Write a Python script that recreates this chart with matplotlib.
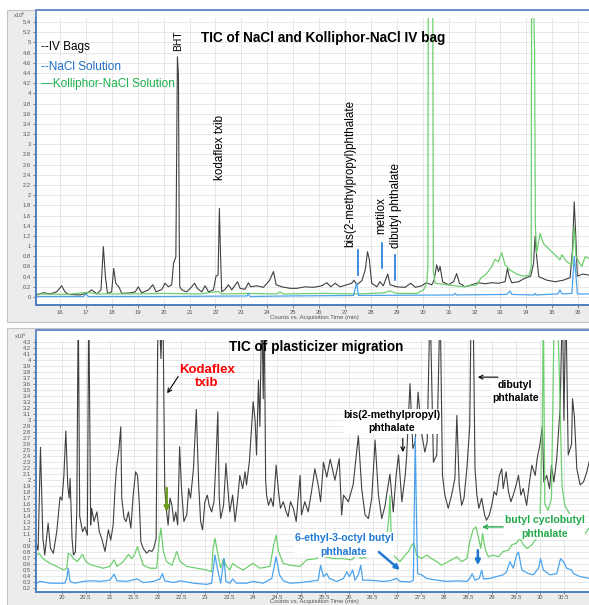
import matplotlib
matplotlib.use('Agg')
import matplotlib.pyplot as plt
from matplotlib.patches import Rectangle

plt.rcParams['font.family'] = ['Liberation Sans', 'DejaVu Sans']

# ---- top panel: TIC of NaCl and Kolliphor-NaCl IV bag (x: min, y: counts x1e6) ----
top_iv = [(15.10, 0.04), (15.36, 0.085), (15.61, 0.06), (15.87, 0.10), (16.06, 0.22), (16.19, 0.10),
          (16.32, 0.05), (16.77, 0.04), (17.06, 0.08), (17.22, 0.14), (17.42, 0.06), (17.58, 0.14),
          (17.67, 0.99), (17.75, 0.40), (17.83, 0.07), (17.99, 0.10), (18.07, 0.56), (18.15, 0.27),
          (18.28, 0.19), (18.38, 0.07), (18.70, 0.08), (18.90, 0.10), (19.02, 0.20), (19.15, 0.08),
          (19.41, 0.14), (19.58, 0.24), (19.71, 0.10), (19.93, 0.15), (20.05, 0.27), (20.18, 0.20),
          (20.31, 0.24), (20.38, 0.66), (20.47, 0.79), (20.53, 4.72), (20.57, 4.35), (20.60, 1.20),
          (20.62, 0.20), (20.70, 0.14), (20.89, 0.10), (21.08, 0.20), (21.19, 0.27), (21.30, 0.17),
          (21.47, 0.10), (21.60, 0.22), (21.73, 0.10), (21.92, 0.14), (22.02, 0.41), (22.10, 0.43),
          (22.15, 1.74), (22.19, 0.92), (22.24, 0.10), (22.37, 0.15), (22.50, 0.24), (22.63, 0.14),
          (22.85, 0.30), (22.95, 0.17), (23.14, 0.15), (23.27, 0.28), (23.36, 0.20), (23.59, 0.22),
          (23.85, 0.19), (24.08, 0.32), (24.24, 0.50), (24.34, 0.24), (24.56, 0.20), (24.88, 0.17),
          (25.14, 0.17), (25.46, 0.20), (25.78, 0.19), (26.10, 0.22), (26.30, 0.28), (26.45, 0.20),
          (26.62, 0.27), (26.81, 0.20), (27.07, 0.24), (27.26, 0.27), (27.35, 0.33), (27.45, 0.24),
          (27.65, 0.32), (27.78, 0.53), (27.87, 0.89), (27.94, 0.73), (28.03, 0.27), (28.23, 0.20),
          (28.35, 0.30), (28.48, 0.22), (28.65, 0.45), (28.74, 0.24), (29.00, 0.20), (29.32, 0.19),
          (29.54, 0.27), (29.71, 0.19), (29.96, 0.22), (30.13, 0.28), (30.35, 0.24), (30.44, 0.33),
          (30.54, 0.63), (30.61, 0.50), (30.67, 0.60), (30.77, 0.30), (30.99, 0.24), (31.19, 0.30),
          (31.31, 0.46), (31.42, 0.27), (31.64, 0.20), (31.89, 0.24), (32.15, 0.28), (32.41, 0.26),
          (32.67, 0.28), (32.92, 0.27), (33.18, 0.30), (33.27, 0.56), (33.34, 0.40), (33.44, 0.28),
          (33.70, 0.30), (33.95, 0.37), (34.17, 0.41), (34.28, 0.66), (34.34, 1.20), (34.40, 0.79),
          (34.48, 0.40), (34.79, 0.33), (35.11, 0.30), (35.43, 0.33), (35.69, 0.38), (35.78, 0.92),
          (35.85, 1.87), (35.91, 1.19), (35.97, 0.41), (36.18, 0.45), (36.42, 0.43)]

top_kol = [(15.10, 0.06), (16.26, 0.05), (17.03, 0.09), (17.42, 0.06), (18.83, 0.06), (20.12, 0.07),
           (21.41, 0.06), (22.11, 0.11), (22.24, 0.06), (23.27, 0.07), (24.37, 0.06), (24.49, 0.10),
           (24.62, 0.06), (26.17, 0.07), (27.45, 0.06), (28.48, 0.08), (28.74, 0.12), (29.00, 0.07),
           (29.77, 0.07), (30.03, 0.14), (30.16, 0.27), (30.20, 0.60), (30.22, 8.0), (30.38, 8.0),
           (30.41, 0.50), (30.48, 0.27), (30.93, 0.24), (31.57, 0.20), (32.09, 0.24), (32.24, 0.37),
           (32.47, 0.46), (32.67, 0.60), (32.79, 0.74), (32.92, 0.69), (33.05, 0.87), (33.18, 0.63),
           (33.37, 0.53), (33.63, 0.45), (33.89, 0.41), (34.12, 0.43), (34.19, 0.60), (34.21, 8.0),
           (34.27, 6.0), (34.32, 4.85), (34.35, 1.40), (34.40, 0.86), (34.53, 1.25), (34.66, 1.05),
           (34.92, 0.92), (35.18, 0.79), (35.30, 0.73), (35.37, 0.83), (35.56, 0.69), (35.76, 0.63),
           (35.85, 1.38), (35.92, 0.79), (36.14, 0.60), (36.27, 0.79), (36.42, 0.76)]

top_nacl = [(15.10, 0.01), (16.90, 0.01), (17.00, 0.06), (17.09, 0.01), (20.12, 0.01), (23.22, 0.02),
            (23.27, 0.07), (23.33, 0.01), (24.80, 0.02), (27.33, 0.03), (27.45, 0.27), (27.52, 0.03),
            (31.19, 0.04), (31.25, 0.07), (31.31, 0.04), (33.25, 0.05), (33.37, 0.12), (33.44, 0.05),
            (34.30, 0.04), (34.34, 0.07), (34.38, 0.04), (35.22, 0.06), (35.30, 0.14), (35.38, 0.06),
            (35.76, 0.07), (35.85, 0.80), (35.92, 0.40), (35.97, 0.06), (36.42, 0.06)]

# ---- bottom panel: TIC of plasticizer migration (x: min, y: counts x1e5) ----
bot_iv = [(19.47, 0.92), (19.50, 0.83), (19.55, 2.55), (19.60, 1.03), (19.64, 0.75), (19.71, 1.28),
          (19.76, 0.86), (19.82, 0.78), (19.89, 1.14), (19.96, 1.72), (20.00, 1.67), (20.04, 2.08),
          (20.08, 2.82), (20.12, 1.92), (20.15, 1.70), (20.17, 2.03), (20.21, 1.03), (20.24, 0.75),
          (20.28, 0.80), (20.31, 1.50), (20.34, 5.0), (20.37, 1.40), (20.43, 1.14), (20.48, 1.22),
          (20.53, 1.08), (20.56, 5.0), (20.60, 1.25), (20.62, 1.53), (20.67, 1.31), (20.73, 1.47),
          (20.78, 1.14), (20.83, 1.03), (20.90, 0.81), (20.97, 1.17), (21.02, 1.00), (21.07, 1.25),
          (21.11, 1.86), (21.14, 2.20), (21.19, 2.50), (21.23, 2.89), (21.25, 1.70), (21.30, 1.36),
          (21.34, 1.31), (21.39, 1.47), (21.44, 1.20), (21.49, 1.75), (21.54, 2.14), (21.58, 2.08),
          (21.62, 1.58), (21.65, 0.97), (21.70, 0.86), (21.77, 0.78), (21.83, 0.83), (21.88, 0.81),
          (21.92, 0.86), (21.97, 1.03), (22.00, 4.20), (22.03, 5.0), (22.07, 4.03), (22.11, 5.0),
          (22.15, 1.86), (22.18, 1.53), (22.22, 1.25), (22.26, 1.70), (22.30, 1.58), (22.34, 1.31),
          (22.38, 1.47), (22.42, 1.25), (22.46, 2.56), (22.50, 1.86), (22.55, 1.31), (22.61, 1.42),
          (22.65, 1.86), (22.69, 1.70), (22.75, 2.19), (22.81, 3.18), (22.86, 1.92), (22.90, 1.31),
          (22.94, 1.17), (22.99, 1.64), (23.04, 1.75), (23.08, 1.58), (23.13, 1.47), (23.18, 1.64),
          (23.22, 2.31), (23.26, 3.14), (23.29, 1.70), (23.32, 1.36), (23.38, 1.58), (23.43, 2.28),
          (23.47, 1.86), (23.51, 1.47), (23.57, 1.75), (23.62, 1.31), (23.67, 1.64), (23.72, 2.08),
          (23.78, 1.86), (23.83, 2.14), (23.86, 1.92), (23.92, 2.31), (24.00, 3.31), (24.04, 3.00),
          (24.07, 2.42), (24.11, 3.67), (24.14, 2.90), (24.18, 5.0), (24.21, 3.36), (24.23, 5.0),
          (24.26, 2.00), (24.28, 1.75), (24.32, 1.58), (24.37, 1.70), (24.42, 1.56), (24.48, 2.25),
          (24.53, 1.81), (24.57, 1.53), (24.63, 1.64), (24.69, 1.47), (24.73, 1.39), (24.78, 1.64),
          (24.84, 1.53), (24.90, 1.31), (24.94, 1.70), (24.98, 2.08), (25.01, 1.42), (25.08, 1.64),
          (25.15, 1.47), (25.22, 1.81), (25.29, 2.19), (25.36, 1.92), (25.41, 1.64), (25.47, 2.30),
          (25.54, 2.05), (25.61, 2.35), (25.71, 2.00), (25.80, 2.36), (25.85, 1.42), (25.89, 1.75),
          (25.99, 1.64), (26.09, 1.92), (26.20, 2.74), (26.27, 1.86), (26.34, 1.42), (26.41, 1.36),
          (26.48, 1.70), (26.55, 2.67), (26.62, 1.75), (26.69, 1.36), (26.76, 1.58), (26.79, 1.75),
          (26.86, 2.10), (26.93, 1.47), (26.99, 2.08), (27.04, 2.42), (27.11, 1.64), (27.18, 2.08),
          (27.21, 2.40), (27.28, 3.61), (27.34, 2.53), (27.39, 2.64), (27.45, 3.47), (27.52, 2.80),
          (27.59, 2.47), (27.64, 2.64), (27.70, 5.0), (27.77, 2.30), (27.84, 2.42), (27.91, 5.0),
          (27.96, 2.08), (28.01, 1.75), (28.08, 1.53), (28.15, 1.75), (28.22, 2.03), (28.26, 3.08),
          (28.31, 1.92), (28.36, 1.58), (28.41, 1.70), (28.47, 2.19), (28.53, 2.90), (28.56, 5.0),
          (28.60, 5.0), (28.64, 2.19), (28.68, 1.75), (28.72, 1.53), (28.78, 1.70), (28.84, 1.42),
          (28.88, 1.33), (28.94, 1.42), (28.99, 1.58), (29.04, 1.81), (29.09, 1.75), (29.15, 2.08),
          (29.20, 2.19), (29.23, 1.86), (29.29, 2.14), (29.34, 1.81), (29.39, 1.64), (29.44, 1.75),
          (29.50, 1.92), (29.55, 2.08), (29.60, 1.75), (29.65, 1.86), (29.72, 1.58), (29.78, 1.97),
          (29.83, 2.25), (29.90, 2.08), (29.94, 2.36), (30.00, 2.60), (30.05, 2.90), (30.08, 1.97),
          (30.14, 2.08), (30.20, 1.86), (30.24, 2.25), (30.29, 1.97), (30.35, 2.36), (30.42, 3.20),
          (30.47, 5.0), (30.50, 3.00), (30.54, 5.0), (30.59, 2.42), (30.66, 2.60), (30.68, 3.36),
          (30.72, 3.05), (30.77, 2.19), (30.84, 1.92), (30.91, 1.97), (30.98, 2.14), (31.03, 2.31)]

bot_kol = [(19.47, 0.75), (19.52, 0.78), (19.60, 0.69), (19.75, 0.61), (19.89, 0.56), (20.03, 0.50),
           (20.10, 0.53), (20.13, 0.78), (20.18, 0.76), (20.24, 0.69), (20.32, 0.64), (20.43, 0.76),
           (20.50, 0.64), (20.62, 0.58), (20.73, 0.56), (20.86, 0.53), (21.00, 0.56), (21.09, 0.67),
           (21.15, 0.56), (21.28, 0.64), (21.39, 0.76), (21.46, 0.69), (21.53, 0.78), (21.58, 0.89),
           (21.63, 0.75), (21.70, 0.58), (21.84, 0.53), (21.98, 0.53), (22.03, 0.97), (22.07, 1.20),
           (22.12, 0.81), (22.19, 0.64), (22.30, 0.58), (22.40, 0.81), (22.47, 0.64), (22.61, 0.56),
           (22.82, 0.53), (23.03, 0.50), (23.13, 0.47), (23.16, 0.86), (23.20, 1.03), (23.25, 0.81),
           (23.32, 0.53), (23.38, 0.69), (23.43, 0.58), (23.51, 0.50), (23.57, 0.61), (23.65, 0.56),
           (23.79, 0.50), (23.99, 0.61), (24.14, 0.53), (24.35, 0.56), (24.43, 0.92), (24.48, 1.08),
           (24.53, 0.81), (24.63, 0.61), (24.77, 0.58), (24.98, 0.56), (25.12, 0.67), (25.33, 0.69),
           (25.43, 0.81), (25.50, 0.72), (25.68, 0.69), (25.89, 0.69), (26.06, 0.67), (26.16, 0.75),
           (26.27, 0.69), (26.37, 0.72), (26.48, 0.81), (26.55, 0.97), (26.60, 0.92), (26.69, 0.95),
           (26.79, 1.00), (26.84, 1.40), (26.86, 1.75), (26.89, 1.00), (26.93, 0.75), (27.07, 0.64),
           (27.18, 0.75), (27.25, 0.81), (27.32, 0.92), (27.36, 0.95), (27.42, 0.75), (27.52, 0.69),
           (27.63, 0.75), (27.73, 0.69), (27.84, 0.64), (27.94, 0.58), (28.08, 0.64), (28.19, 0.69),
           (28.26, 0.72), (28.36, 0.64), (28.47, 0.69), (28.53, 0.97), (28.60, 1.17), (28.66, 1.22),
           (28.71, 1.06), (28.76, 0.86), (28.80, 1.11), (28.85, 0.86), (28.92, 0.72), (29.02, 0.75),
           (29.13, 0.72), (29.23, 0.81), (29.34, 0.83), (29.41, 0.92), (29.51, 0.95), (29.58, 1.03),
           (29.65, 0.92), (29.73, 0.86), (29.83, 0.92), (29.93, 1.03), (30.00, 1.31), (30.05, 3.00),
           (30.07, 5.0), (30.10, 1.60), (30.17, 1.50), (30.24, 1.70), (30.30, 5.0), (30.36, 5.0),
           (30.40, 3.90), (30.46, 1.90), (30.52, 1.58), (30.63, 1.42), (30.73, 1.31), (30.84, 1.20),
           (30.94, 1.11), (31.03, 1.20)]

bot_nacl = [(19.47, 0.28), (19.54, 0.31), (19.75, 0.28), (19.96, 0.28), (20.06, 0.28), (20.10, 0.36),
            (20.13, 0.53), (20.17, 0.31), (20.27, 0.28), (20.45, 0.31), (20.65, 0.32), (20.79, 0.31),
            (21.00, 0.33), (21.09, 0.43), (21.15, 0.32), (21.35, 0.31), (21.58, 0.35), (21.70, 0.29),
            (21.91, 0.31), (22.05, 0.35), (22.10, 0.44), (22.15, 0.32), (22.33, 0.29), (22.47, 0.32),
            (22.75, 0.28), (23.03, 0.26), (23.13, 0.28), (23.20, 0.75), (23.25, 0.53), (23.32, 0.28),
            (23.39, 0.69), (23.43, 0.31), (23.51, 0.28), (23.57, 0.35), (23.65, 0.28), (23.86, 0.28),
            (24.00, 0.31), (24.21, 0.28), (24.39, 0.36), (24.48, 0.72), (24.55, 0.42), (24.63, 0.32),
            (24.77, 0.28), (24.98, 0.29), (25.19, 0.31), (25.36, 0.33), (25.41, 0.58), (25.47, 0.39),
            (25.54, 0.44), (25.59, 0.36), (25.75, 0.31), (25.89, 0.36), (25.96, 0.47), (26.01, 0.39),
            (26.08, 0.50), (26.13, 0.33), (26.20, 0.42), (26.25, 0.58), (26.29, 0.33), (26.41, 0.33),
            (26.58, 0.32), (26.72, 0.31), (26.86, 0.32), (27.00, 0.36), (27.07, 0.31), (27.28, 0.30),
            (27.35, 0.33), (27.37, 1.50), (27.39, 2.72), (27.42, 1.20), (27.44, 0.44), (27.52, 0.42),
            (27.63, 0.36), (27.84, 0.33), (28.05, 0.31), (28.26, 0.32), (28.47, 0.31), (28.53, 0.36),
            (28.58, 0.44), (28.64, 0.33), (28.73, 0.36), (28.78, 0.50), (28.82, 0.35), (28.95, 0.36),
            (29.09, 0.39), (29.23, 0.42), (29.30, 0.47), (29.37, 0.64), (29.44, 0.53), (29.51, 0.75),
            (29.55, 0.80), (29.62, 0.50), (29.76, 0.44), (29.86, 0.42), (29.97, 0.53), (30.01, 0.69),
            (30.07, 0.50), (30.21, 0.42), (30.35, 0.44), (30.43, 0.69), (30.49, 0.64), (30.56, 0.53),
            (30.66, 0.50), (30.70, 0.44), (30.84, 0.39), (31.03, 0.36)]

top_xticks = list(range(16, 37))
top_yticks = [round(0.2 * i, 1) for i in range(28)]
bot_xticks = [20 + 0.5 * i for i in range(22)]
bot_yticks = [round(0.1 * i, 1) for i in range(2, 44)]

C_IV, C_KOL, C_NACL = '#404040', '#6fcf6f', '#4ba3ee'
FRAME = '#4f7fc0'

fig = plt.figure(figsize=(5.89, 6.05), dpi=100)

# grey chart boxes and white plot frames (figure fraction)
for y0, y1 in [(0.468, 0.9835), (-0.02, 0.458)]:
    fig.patches.append(Rectangle((0.012, y0), 1.0, y1 - y0, transform=fig.transFigure,
                                 facecolor='#ececec', edgecolor='#c4c4c4', lw=0.8, zorder=-3))
for y0, y1 in [(0.4959, 0.9835), (0.0215, 0.4545)]:
    fig.patches.append(Rectangle((0.0611, y0), 1.0, y1 - y0, transform=fig.transFigure,
                                 facecolor='white', edgecolor=FRAME, lw=1.2, zorder=-2))

ax1 = fig.add_axes([0.0611, 0.4959, 0.9389, 0.4743])
ax2 = fig.add_axes([0.0611, 0.0215, 0.9389, 0.4165])


def style(ax, xt, yt, xlim, ylim):
    ax.set_xlim(*xlim)
    ax.set_ylim(*ylim)
    ax.set_xticks(xt)
    ax.set_yticks(yt)
    ax.set_xticklabels(['%g' % v for v in xt])
    ax.set_yticklabels(['%g' % v for v in yt])
    ax.tick_params(labelsize=4.2, colors='#555555', length=2, width=0.5, pad=1.5)
    ax.grid(color='#e4e4e4', lw=0.6)
    ax.set_axisbelow(True)
    for s in ['top', 'right']:
        ax.spines[s].set_visible(False)
    for s in ['left', 'bottom']:
        ax.spines[s].set_color(FRAME)
        ax.spines[s].set_linewidth(1.4)


def trace(ax, pts, color, lw):
    xs, ys = zip(*pts)
    ax.plot(xs, ys, color=color, lw=lw)


# top panel
style(ax1, top_xticks, top_yticks, (15.07, 36.42), (-0.157, 5.48))
trace(ax1, top_iv, C_IV, 0.8)
trace(ax1, top_kol, C_KOL, 0.9)
trace(ax1, top_nacl, C_NACL, 0.9)

ax1.text(26.15, 5.09, 'TIC of NaCl and Kolliphor-NaCl IV bag', weight='bold',
         fontsize=9.8, ha='center', va='center')
ax1.text(15.27, 4.91, '--IV Bags', fontsize=8.5, color='black', va='center')
ax1.text(15.27, 4.52, '--NaCl Solution', fontsize=8.5, color='#1e6fc8', va='center')
ax1.text(15.27, 4.18, '\u2014Kolliphor-NaCl Solution', fontsize=8.5, color='#1bb24b', va='center')
for x, y, s, fs in [(20.56, 5.03, 'BHT', 7.5), (22.18, 2.93, 'kodaflex txib', 8.4),
                    (27.20, 2.42, 'bis(2-methylpropyl)phthalate', 8.4), (28.39, 1.61, 'metilox', 8.4),
                    (28.97, 1.79, 'dibutyl phthalate', 8.4)]:
    ax1.text(x, y, s, rotation=90, fontsize=fs, ha='center', va='center')
for x, y0, y1 in [(27.49, 0.43, 0.92), (28.42, 0.57, 1.06), (28.93, 0.33, 0.83)]:
    ax1.plot([x, x], [y0, y1], color='#1e78d6', lw=1.2)

# bottom panel
style(ax2, bot_xticks, bot_yticks, (19.456, 31.025), (0.133, 4.34))
ax2.tick_params(axis='x', length=1.5, pad=0.8)
trace(ax2, bot_iv, C_IV, 0.8)
trace(ax2, bot_kol, C_KOL, 0.9)
trace(ax2, bot_nacl, C_NACL, 0.9)

ax2.text(25.31, 4.22, 'TIC of plasticizer migration', weight='bold', fontsize=9.8,
         ha='center', va='center')
ax2.text(23.03, 3.73, 'Kodaflex\ntxib', weight='bold', fontsize=9.5, color='red',
         ha='center', va='center', linespacing=1.2)
box = dict(fc='white', ec='none', pad=0.5)
ax2.text(26.9, 2.98, 'bis(2-methylpropyl)\nphthalate', weight='bold', fontsize=7.6,
         ha='center', va='center', linespacing=1.45, bbox=box)
ax2.text(29.48, 3.48, 'dibutyl\nphthalate', weight='bold', fontsize=7.6,
         ha='center', va='center', linespacing=1.45, bbox=box)
ax2.text(25.90, 0.92, '6-ethyl-3-octyl butyl\nphthalate', weight='bold', fontsize=7.6,
         color='#1f78d1', ha='center', va='center', linespacing=1.45, bbox=box)
ax2.text(30.10, 1.22, 'butyl cyclobutyl\nphthalate', weight='bold', fontsize=7.6,
         color='#21a84a', ha='center', va='center', linespacing=1.45, bbox=box)

arrows = [((22.20, 3.45), (22.43, 3.73), 'black', '->', 0.8),
          ((27.13, 2.47), (27.13, 2.70), 'black', '->', 0.8),
          ((28.70, 3.72), (29.12, 3.72), 'black', '->', 0.8),
          ((27.07, 0.50), (26.63, 0.80), '#1f78d1', '-|>', 1.8),
          ((28.70, 0.58), (28.70, 0.83), '#1f78d1', '-|>', 1.8),
          ((28.79, 1.22), (29.23, 1.22), '#21a84a', '->', 1.0),
          ((22.19, 1.47), (22.19, 1.87), '#6b9e1f', '-|>', 1.8)]
for head, tail, col, style_, lw in arrows:
    ax2.annotate('', xy=head, xytext=tail,
                 arrowprops=dict(arrowstyle=style_, color=col, lw=lw, mutation_scale=7,
                                 shrinkA=0, shrinkB=0))

# unit and axis captions
fig.text(0.034, 0.975, r'x10$^6$', fontsize=4, color='#555555', ha='center', va='center')
fig.text(0.034, 0.4446, r'x10$^5$', fontsize=4, color='#555555', ha='center', va='center')
fig.text(0.533, 0.4744, 'Counts vs. Acquisition Time (min)', fontsize=4.3, color='#555555',
         ha='center', va='center')
fig.text(0.533, 0.0015, 'Counts vs. Acquisition Time (min)', fontsize=4.3, color='#555555',
         ha='center', va='bottom')

fig.savefig('out.png', dpi=100)
